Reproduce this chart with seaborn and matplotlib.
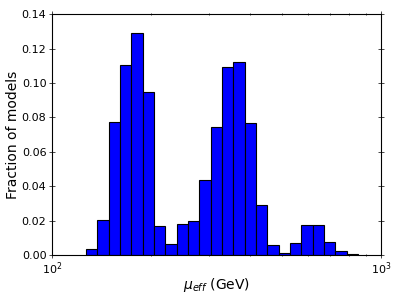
import numpy as np
import matplotlib
matplotlib.use('Agg')
import matplotlib.pyplot as plt
from matplotlib.ticker import NullFormatter
import seaborn as sns

# mu_eff histogram, 24 log-spaced bins between these edges (GeV)
edge_lo = 127.0
edge_hi = 851.0
n_bins = 24

# fraction of models per bin
fractions = [0.0033, 0.0203, 0.0771, 0.1106, 0.1290, 0.0947,
             0.0170, 0.0062, 0.0182, 0.0198, 0.0436, 0.0746,
             0.1094, 0.1120, 0.0765, 0.0290, 0.0056, 0.0012,
             0.0070, 0.0176, 0.0176, 0.0076, 0.0025, 0.0006]

edges = np.logspace(np.log10(edge_lo), np.log10(edge_hi), n_bins + 1)
centers = np.sqrt(edges[:-1] * edges[1:])

sns.set_style('ticks', {'text.color': 'black', 'axes.labelcolor': 'black',
                        'xtick.color': 'black', 'ytick.color': 'black',
                        'axes.edgecolor': 'black'})
plt.rcParams['font.family'] = ['DejaVu Sans']

fig = plt.figure(figsize=(4, 3), dpi=100)
ax = fig.add_axes([0.13, 0.15, 0.8225, 0.803])

sns.histplot(x=centers, weights=fractions, bins=n_bins,
             binrange=(np.log10(edge_lo), np.log10(edge_hi)),
             log_scale=True, stat='count', color='#0000ff', alpha=1.0,
             edgecolor='black', linewidth=0.8, ax=ax)

ax.set_xlim(100, 1000)
ax.set_ylim(0, 0.14)
ax.set_yticks(np.arange(0, 0.141, 0.02))
ax.set_yticklabels([f'{v:.2f}' for v in np.arange(0, 0.141, 0.02)])
ax.xaxis.set_minor_formatter(NullFormatter())
for s in ax.spines.values():
    s.set_visible(True)
    s.set_linewidth(0.8)
ax.tick_params(which='both', direction='inout', top=True, right=True,
               labelsize=8, width=0.5, colors='black', pad=2)
ax.tick_params(which='major', length=4)
ax.tick_params(which='minor', length=2)
ax.set_xlabel(r'$\mu_{eff}$ (GeV)', fontsize=10, labelpad=-1)
ax.set_ylabel('Fraction of models', fontsize=10, labelpad=1)

fig.savefig('out.png', dpi=100)
